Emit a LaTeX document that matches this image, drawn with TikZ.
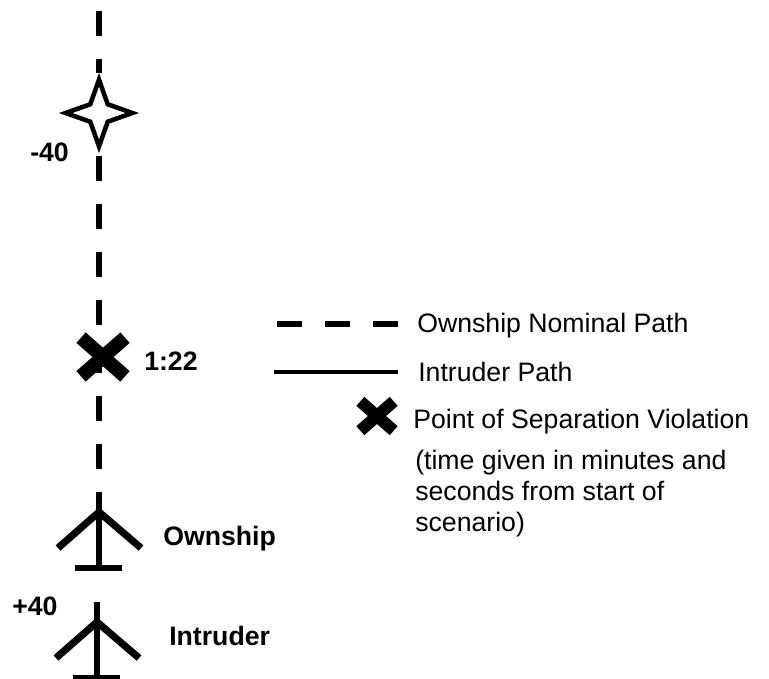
\documentclass[tikz,border=0pt]{standalone}
\usepackage{fontspec}
\setmainfont{Liberation Sans}
\usetikzlibrary{shapes.geometric,shapes.misc}

\tikzset{
  ownpath/.style={line width=4.5pt,dash pattern=on 18.75pt off 17.25pt},
  intrpath/.style={line width=2.6pt},
  planeline/.style={line width=4.6pt},
  wingline/.style={line width=5.4pt},
  waypoint/.style={star,star points=4,star point ratio=2.7,draw,fill=white,line width=3.4pt,minimum size=50pt,inner sep=0pt},
  violation/.style={cross out,draw,line cap=butt,inner sep=0pt,outer sep=0pt},
  bigx/.style={violation,line width=10.5pt,minimum width=33pt,minimum height=29pt},
  smallx/.style={violation,line width=9pt,minimum width=25pt,minimum height=22pt},
  maplabel/.style={anchor=base west,inner sep=0pt,font=\fontsize{20}{23}\selectfont\bfseries},
  keylabel/.style={anchor=base west,inner sep=0pt,align=left,font=\fontsize{20}{23.3}\selectfont}
}

\begin{document}
\begin{tikzpicture}[x=0.75pt,y=-0.75pt]
  \useasboundingbox (0,0) rectangle (769,679);
  \coordinate (top) at (99,11);
  \coordinate (crossmid) at (99,358);
  \coordinate (ownnose) at (99,492);
  \coordinate (intnose) at (97,602);
  \coordinate (keya) at (277,324);
  \coordinate (keyb) at (398,324);
  \coordinate (keyc) at (274,372);
  \coordinate (keyd) at (398,372);

  \node[waypoint] (star) at (99,113) {};

  \draw[ownpath] (top) -- (star);
  \draw[ownpath,dash phase=34pt] (star) -- (crossmid);
  \draw[ownpath,dash phase=7.5pt] (crossmid) -- (ownnose);
  \draw[ownpath] (keya) -- (keyb);
  \draw[intrpath] (keyc) -- (keyd);

  \node[bigx] (cross) at (103,357) {};
  \node[smallx] (keycross) at (377,416) {};

  \foreach \nose in {ownnose,intnose} {
    \draw[planeline] (\nose) -- ++(0,76);
    \draw[wingline] (\nose) ++(-41,56) -- ++(41,-36) -- ++(42,36);
    \draw[planeline] (\nose) ++(-24,76) -- ++(47,0);
  }

  \node[maplabel] (early) at (30,161) {-40};
  \node[maplabel] (time) at (144,370) {1:22};
  \node[maplabel] (ownship) at (163,545) {Ownship};
  \node[maplabel] (late) at (12,615) {+40};
  \node[maplabel] (intruder) at (169,645) {Intruder};
  \node[keylabel] (ownkey) at (417,332) {Ownship Nominal Path};
  \node[keylabel] (intkey) at (418,381) {Intruder Path};
  \node[keylabel] (violkey) at (413,428) {Point of Separation Violation};
  \node[keylabel,anchor=north west] (note) at (415,450) {(time given in minutes and\\seconds from start of\\scenario)};
\end{tikzpicture}
\end{document}
